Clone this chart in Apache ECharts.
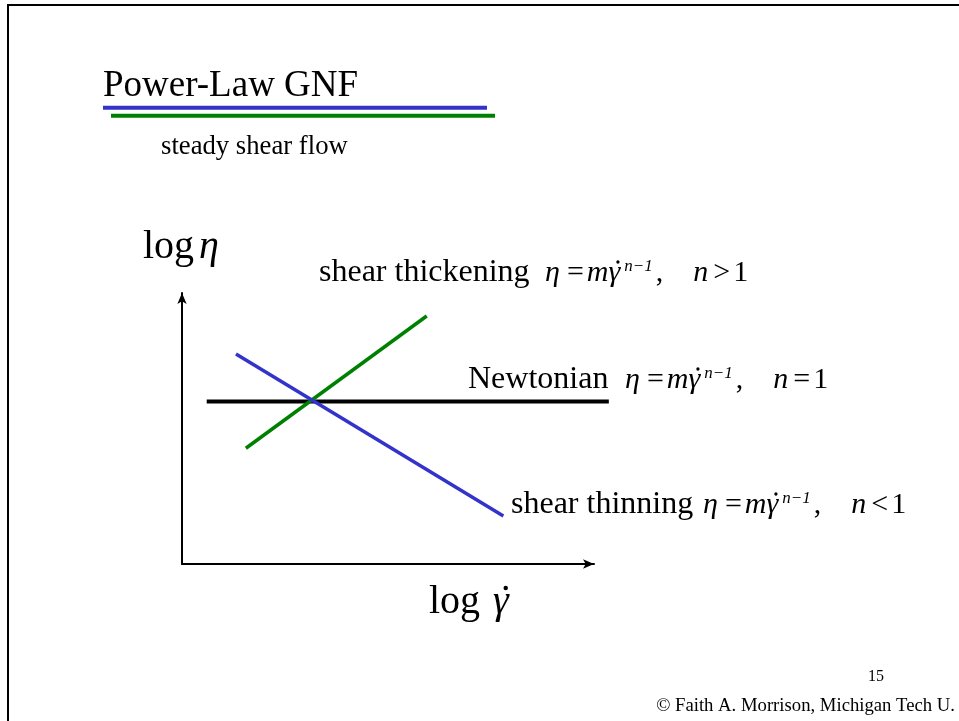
<!DOCTYPE html>
<html>
<head>
<meta charset="utf-8">
<title>Power-Law GNF</title>
<script src="https://cdn.jsdelivr.net/npm/echarts@6/dist/echarts.min.js"></script>
<style>
  html, body { margin: 0; padding: 0; background: #fff; }
  #chart { width: 959px; height: 721px; }
</style>
</head>
<body>
<div id="chart"></div>
<script>
// axis ranges (log shear rate, log viscosity), no tick labels on this sketch
var xRange = [0, 10];
var yRange = [0, 10];
// the lines may run a bit past the arrow of the x axis
var lineXRange = [0, 10.5];

// line end points, [log gamma-dot, log eta]
var newtonianPts = [[0.6, 6.0], [10.36, 6.0]];
var thickeningPts = [[1.55, 4.27], [5.94, 9.15]];
var thinningPts = [[1.31, 7.75], [7.8, 1.77]];

var seriesNames = ['Newtonian', 'shear thickening', 'shear thinning'];
var nOperators = ['=', '>', '<'];

var SERIF = '"Liberation Serif", "Times New Roman", serif';
var BLUE = '#3333cc', GREEN = '#008000';

var myChart = echarts.init(document.getElementById('chart'));

// --- little text layout helper for the formulas (measure, then place piece by piece)
var ctx = document.createElement('canvas').getContext('2d');
var ST = {
  t: { size: 32 },
  r: { size: 30 },
  i: { size: 30, italic: true },
  s: { size: 17, italic: true, rise: 11 },
  R: { size: 40 },
  I: { size: 40, italic: true }
};
function fontOf(st) {
  return (st.italic ? 'italic ' : '') + st.size + 'px ' + SERIF;
}
// pieces: [text, style, gap before, dot above?]
function layout(x, base, pieces, out) {
  pieces.forEach(function (p) {
    var st = ST[p[1]];
    x += p[2] || 0;
    ctx.font = fontOf(st);
    var w = ctx.measureText(p[0]).width;
    out.push({
      type: 'text', x: x, y: base - (st.rise || 0) - 0.34 * st.size, silent: true,
      style: { text: p[0], fontFamily: SERIF, fontSize: st.size, fontStyle: st.italic ? 'italic' : 'normal',
        fill: '#000', verticalAlign: 'middle' }
    });
    if (p[3]) {
      out.push({ type: 'circle', silent: true,
        shape: { cx: x + w * 0.8, cy: base - 0.7 * st.size, r: 0.055 * st.size },
        style: { fill: '#000' } });
    }
    x += w;
  });
}
function formula(op) {
  return [['η', 'i', 0], ['=', 'r', 7], ['m', 'i', 3], ['γ', 'i', 0, true], ['n−1', 's', 4],
    [',', 'r', 3], ['n', 'i', 30], [op, 'r', 5], ['1', 'r', 3]];
}

var graphics = [
  // slide frame
  { type: 'rect', shape: { x: 8, y: 5, width: 1000, height: 1000 }, style: { fill: null, stroke: '#000', lineWidth: 2 }, silent: true },
  // title underlines
  { type: 'line', shape: { x1: 103, y1: 107.7, x2: 487, y2: 107.7 }, style: { stroke: BLUE, lineWidth: 4 }, silent: true },
  { type: 'line', shape: { x1: 111, y1: 115.7, x2: 495, y2: 115.7 }, style: { stroke: GREEN, lineWidth: 4 }, silent: true },
  // footer
  { type: 'text', x: 868, y: 677, silent: true,
    style: { text: '15', fontFamily: SERIF, fontSize: 16, fill: '#000', verticalAlign: 'middle' } },
  { type: 'text', x: 955, y: 706.5, silent: true,
    style: { text: '© Faith A. Morrison, Michigan Tech U.', fontFamily: SERIF, fontSize: 18.7, fill: '#000', align: 'right', verticalAlign: 'middle' } }
];

// axis names
layout(143, 261.5, [['log', 'R', 0], ['η', 'I', 5]], graphics);
layout(429, 616, [['log', 'R', 0], ['γ', 'I', 13, true]], graphics);

// curve annotations
layout(319, 283, [[seriesNames[1], 't', 0]], graphics);
layout(545, 283, formula(nOperators[1]), graphics);
layout(468, 390, [[seriesNames[0], 't', 0]], graphics);
layout(625, 390, formula(nOperators[0]), graphics);
layout(511, 515, [[seriesNames[2], 't', 0]], graphics);
layout(703, 515, formula(nOperators[2]), graphics);

var hiddenAxis = { show: false };

var option = {
  backgroundColor: '#fff',
  animation: false,
  title: [
    { text: 'Power-Law GNF', left: 103, top: 67, padding: 0,
      textStyle: { fontFamily: SERIF, fontSize: 37, fontWeight: 'normal', color: '#000', lineHeight: 38 } },
    { text: 'steady shear flow', left: 161, top: 133, padding: 0,
      textStyle: { fontFamily: SERIF, fontSize: 26.7, fontWeight: 'normal', color: '#000', lineHeight: 28 } }
  ],
  grid: [
    { left: 182, top: 293, width: 412, height: 271 },
    // same scale, wider, only for the lines
    { left: 182, top: 293, width: 412 * (lineXRange[1] - lineXRange[0]) / (xRange[1] - xRange[0]), height: 271 }
  ],
  xAxis: [
    {
      type: 'value', gridIndex: 0, min: xRange[0], max: xRange[1],
      axisLine: { show: true, symbol: ['none', 'arrow'], symbolSize: [7, 11], lineStyle: { color: '#000', width: 2 } },
      axisTick: { show: false }, axisLabel: { show: false }, splitLine: { show: false }
    },
    { type: 'value', gridIndex: 1, min: lineXRange[0], max: lineXRange[1], show: false, splitLine: hiddenAxis }
  ],
  yAxis: [
    {
      type: 'value', gridIndex: 0, min: yRange[0], max: yRange[1],
      axisLine: { show: true, symbol: ['none', 'arrow'], symbolSize: [7, 11], lineStyle: { color: '#000', width: 2 } },
      axisTick: { show: false }, axisLabel: { show: false }, splitLine: { show: false }
    },
    { type: 'value', gridIndex: 1, min: yRange[0], max: yRange[1], show: false, splitLine: hiddenAxis }
  ],
  series: [
    { name: seriesNames[0], type: 'line', xAxisIndex: 1, yAxisIndex: 1, data: newtonianPts, symbol: 'none',
      lineStyle: { color: '#000', width: 4 }, z: 3 },
    { name: seriesNames[1], type: 'line', xAxisIndex: 1, yAxisIndex: 1, data: thickeningPts, symbol: 'none',
      lineStyle: { color: GREEN, width: 3.5 }, z: 4 },
    { name: seriesNames[2], type: 'line', xAxisIndex: 1, yAxisIndex: 1, data: thinningPts, symbol: 'none',
      lineStyle: { color: BLUE, width: 3.5 }, z: 5 }
  ],
  graphic: graphics
};

myChart.setOption(option);
</script>
</body>
</html>
